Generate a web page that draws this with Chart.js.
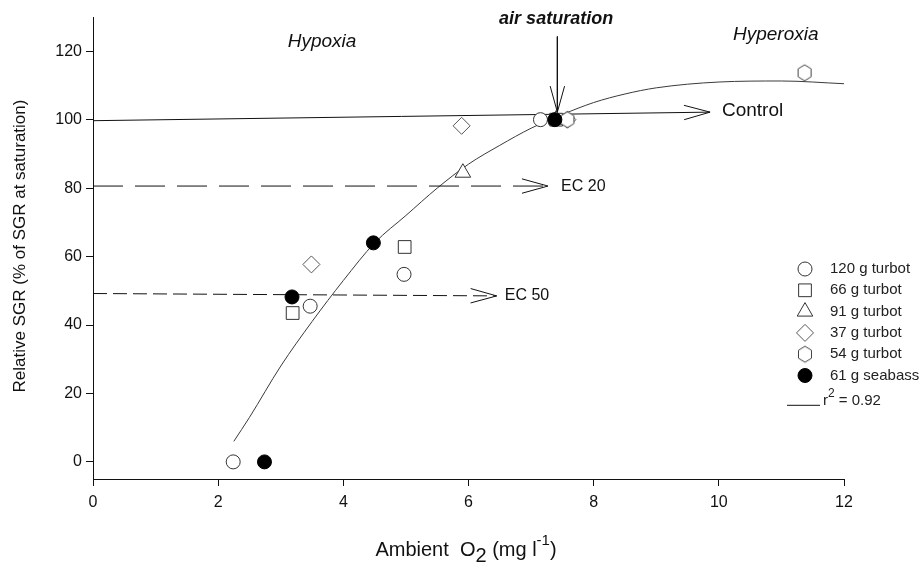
<!DOCTYPE html>
<html>
<head>
<meta charset="utf-8">
<script src="https://cdn.jsdelivr.net/npm/chart.js@4.4.1/dist/chart.umd.min.js"></script>
<style>
  html, body { margin: 0; padding: 0; background: #fff; }
  #wrap { width: 921px; height: 574px; }
</style>
</head>
<body>
<div id="wrap"><canvas id="c" width="921" height="574"></canvas></div>
<script>
// ---- axis ticks ----
const xTicks = [0, 2, 4, 6, 8, 10, 12];
const yTicks = [0, 20, 40, 60, 80, 100, 120];

// ---- measured growth (relative SGR, %) vs ambient O2 (mg/l) ----
const turbot120X = [2.24, 3.47, 4.97, 7.15];
const turbot120Y = [0, 45.5, 54.8, 100];
const turbot66X = [3.19, 4.98, 7.4];
const turbot66Y = [43.5, 62.8, 100];
const turbot91X = [5.91, 7.4];
const turbot91Y = [84.5, 100];
const turbot37X = [3.49, 5.89, 7.58];
const turbot37Y = [57.7, 98.2, 100];
const turbot54X = [7.58, 11.37];
const turbot54Y = [100, 113.7];
const seabass61X = [2.74, 3.18, 4.48, 7.38];
const seabass61Y = [0, 48.2, 64, 100];

// ---- fitted response curve (r^2 = 0.92) ----
const fitX = [2.25, 2.5, 3, 3.5, 4, 4.5, 5, 5.5, 6, 6.5, 7, 7.5, 8, 8.5, 9, 10, 11, 12];
const fitY = [6, 13, 28, 41, 53, 64, 72, 80, 87, 92.5, 97.5, 101.5, 105, 107.5, 109.3, 111, 111.3, 110.5];

// ---- reference arrows ----
const controlX = [0, 9.86];
const controlY = [99.7, 102.2];
const ec20X = [0, 7.27];
const ec20Y = [80.6, 80.6];
const ec50X = [0, 6.45];
const ec50Y = [49.2, 48.5];
const airSatX = [7.42, 7.42];
const airSatY = [124.3, 102.2];

const FONT = "'Liberation Sans', Arial, Helvetica, sans-serif";
const pts = (xs, ys) => xs.map((v, i) => ({ x: v, y: ys[i] }));

// hexagon marker (pointy top)
const hexImg = (() => {
  const c = document.createElement('canvas');
  c.width = 18; c.height = 20;
  const g = c.getContext('2d');
  g.beginPath();
  for (let k = 0; k < 6; k++) {
    const a = -Math.PI / 2 + k * Math.PI / 3;
    const px = 9 + 7.5 * Math.cos(a), py = 10 + 8 * Math.sin(a);
    if (k === 0) g.moveTo(px, py); else g.lineTo(px, py);
  }
  g.closePath();
  g.fillStyle = '#fff';
  g.fill();
  g.strokeStyle = '#444';
  g.lineWidth = 1;
  g.stroke();
  return c;
})();

const markerSeries = [
  { label: '120 g turbot', xs: turbot120X, ys: turbot120Y, style: 'circle', r: 7, fill: '#fff', stroke: '#333' },
  { label: '66 g turbot', xs: turbot66X, ys: turbot66Y, style: 'rect', r: 9, fill: '#fff', stroke: '#333' },
  { label: '91 g turbot', xs: turbot91X, ys: turbot91Y, style: 'triangle', r: 9, fill: '#fff', stroke: '#333' },
  { label: '37 g turbot', xs: turbot37X, ys: turbot37Y, style: 'rectRot', r: 8.5, fill: '#fff', stroke: '#555' },
  { label: '54 g turbot', xs: turbot54X, ys: turbot54Y, style: hexImg, r: 8, fill: '#fff', stroke: '#444' },
  { label: '61 g seabass', xs: seabass61X, ys: seabass61Y, style: 'circle', r: 7, fill: '#000', stroke: '#000' }
];

const lineSet = (xs, ys, color, dash) => ({
  data: pts(xs, ys),
  showLine: true,
  borderColor: color,
  borderWidth: 1,
  borderDash: dash || [],
  pointRadius: 0,
  fill: false,
  order: 20
});

const datasets = [];
markerSeries.forEach((s, i) => {
  datasets.push({
    label: s.label,
    data: pts(s.xs, s.ys),
    pointStyle: s.style,
    pointRadius: s.r,
    backgroundColor: s.fill,
    borderColor: s.stroke,
    borderWidth: 1,
    showLine: false,
    order: markerSeries.length - i
  });
});
const fitSet = lineSet(fitX, fitY, '#3a3a3a');
fitSet.cubicInterpolationMode = 'monotone';
fitSet.order = 25;
datasets.push(fitSet);
datasets.push(lineSet(controlX, controlY, '#111'));
datasets.push(lineSet(ec20X, ec20Y, '#111', [30, 12]));
datasets.push(lineSet(ec50X, ec50Y, '#111', [14, 6]));
datasets.push(lineSet(airSatX, airSatY, '#111'));

const arrows = [
  [controlX, controlY], [ec20X, ec20Y], [ec50X, ec50Y], [airSatX, airSatY]
];

// text placed in data coordinates
const notes = [
  { text: 'Hypoxia', x: 3.66, y: 122.8, font: 'italic 19px ' + FONT, align: 'center' },
  { text: 'air saturation', x: 7.4, y: 129.4, font: 'italic bold 18px ' + FONT, align: 'center' },
  { text: 'Hyperoxia', x: 10.91, y: 124.9, font: 'italic 19px ' + FONT, align: 'center' },
  { text: 'Control', x: 10.05, y: 102.6, font: '19px ' + FONT, align: 'left' },
  { text: 'EC 20', x: 7.48, y: 80.4, font: '16px ' + FONT, align: 'left' },
  { text: 'EC 50', x: 6.58, y: 48.7, font: '16px ' + FONT, align: 'left' }
];

function arrowHead(ctx, x1, y1, x2, y2) {
  const ang = Math.atan2(y2 - y1, x2 - x1);
  const len = 27, spread = 0.27;
  ctx.beginPath();
  ctx.moveTo(x2 - len * Math.cos(ang - spread), y2 - len * Math.sin(ang - spread));
  ctx.lineTo(x2, y2);
  ctx.lineTo(x2 - len * Math.cos(ang + spread), y2 - len * Math.sin(ang + spread));
  ctx.stroke();
}

const decor = {
  id: 'decor',
  afterDatasetsDraw(chart) {
    const { ctx, scales: { x, y } } = chart;
    const px = v => x.getPixelForValue(v);
    const py = v => y.getPixelForValue(v);
    ctx.save();
    ctx.strokeStyle = '#111';
    ctx.lineWidth = 1;
    ctx.setLineDash([]);
    arrows.forEach(([xs, ys]) => {
      const n = xs.length;
      arrowHead(ctx, px(xs[n - 2]), py(ys[n - 2]), px(xs[n - 1]), py(ys[n - 1]));
    });

    ctx.fillStyle = '#111';
    ctx.textBaseline = 'middle';
    notes.forEach(n => {
      ctx.font = n.font;
      ctx.textAlign = n.align;
      ctx.fillText(n.text, px(n.x), py(n.y));
    });

    // legend
    const lx = 805, tx = 830, top = 269, step = 21.3;
    ctx.font = '15px ' + FONT;
    ctx.textAlign = 'left';
    markerSeries.forEach((s, i) => {
      const yy = top + i * step;
      ctx.fillStyle = s.fill;
      ctx.strokeStyle = s.stroke;
      Chart.helpers.drawPoint(ctx, { pointStyle: s.style, radius: s.r, rotation: 0, borderWidth: 1 }, lx, yy);
      ctx.fillStyle = '#222';
      ctx.fillText(s.label, tx, yy);
    });
    const ry = top + 6 * step + 4;
    ctx.strokeStyle = '#111';
    ctx.beginPath();
    ctx.moveTo(787, ry + 4.5);
    ctx.lineTo(820, ry + 4.5);
    ctx.stroke();
    ctx.fillStyle = '#222';
    ctx.font = '15px ' + FONT;
    ctx.fillText('r', 823, ry);
    let w = ctx.measureText('r').width;
    ctx.font = '12px ' + FONT;
    ctx.fillText('2', 823 + w, ry - 7);
    w += ctx.measureText('2').width;
    ctx.font = '15px ' + FONT;
    ctx.fillText(' = 0.92', 823 + w, ry);

    // x-axis title with subscript / superscript
    const parts = [
      { t: 'Ambient  O', f: '20px ', dy: 0 },
      { t: '2', f: '20px ', dy: 6 },
      { t: ' (mg l', f: '20px ', dy: 0 },
      { t: '-1', f: '15px ', dy: -9 },
      { t: ')', f: '20px ', dy: 0 }
    ];
    let total = 0;
    parts.forEach(p => { ctx.font = p.f + FONT; p.w = ctx.measureText(p.t).width; total += p.w; });
    let cx = 466 - total / 2;
    const base = 550;
    ctx.fillStyle = '#111';
    ctx.textAlign = 'left';
    parts.forEach(p => {
      ctx.font = p.f + FONT;
      ctx.fillText(p.t, cx, base + p.dy);
      cx += p.w;
    });

    // y-axis title
    ctx.save();
    ctx.translate(20, 246);
    ctx.rotate(-Math.PI / 2);
    ctx.textAlign = 'center';
    ctx.font = '17px ' + FONT;
    ctx.fillText('Relative SGR (% of SGR at saturation)', 0, 0);
    ctx.restore();

    ctx.restore();
  }
};

new Chart(document.getElementById('c'), {
  type: 'scatter',
  data: { datasets },
  options: {
    responsive: false,
    animation: false,
    events: [],
    devicePixelRatio: 1,
    layout: { padding: { left: 0, top: 17, right: 77, bottom: 0 } },
    plugins: { legend: { display: false }, tooltip: { enabled: false } },
    scales: {
      x: {
        type: 'linear',
        min: 0, max: 12,
        afterBuildTicks: s => { s.ticks = xTicks.map(v => ({ value: v })); },
        afterFit: s => { s.height = 95; },
        grid: { drawOnChartArea: false, drawTicks: true, tickLength: 7, color: '#111' },
        border: { display: true, color: '#111', width: 1 },
        ticks: { color: '#111', font: { family: FONT, size: 16 }, padding: 7, maxRotation: 0 }
      },
      y: {
        type: 'linear',
        min: -5, max: 130,
        afterBuildTicks: s => { s.ticks = yTicks.map(v => ({ value: v })); },
        afterFit: s => { s.width = 93; },
        grid: { drawOnChartArea: false, drawTicks: true, tickLength: 7, color: '#111' },
        border: { display: true, color: '#111', width: 1 },
        ticks: { color: '#111', font: { family: FONT, size: 16 }, padding: 4 }
      }
    }
  },
  plugins: [decor]
});
</script>
</body>
</html>
